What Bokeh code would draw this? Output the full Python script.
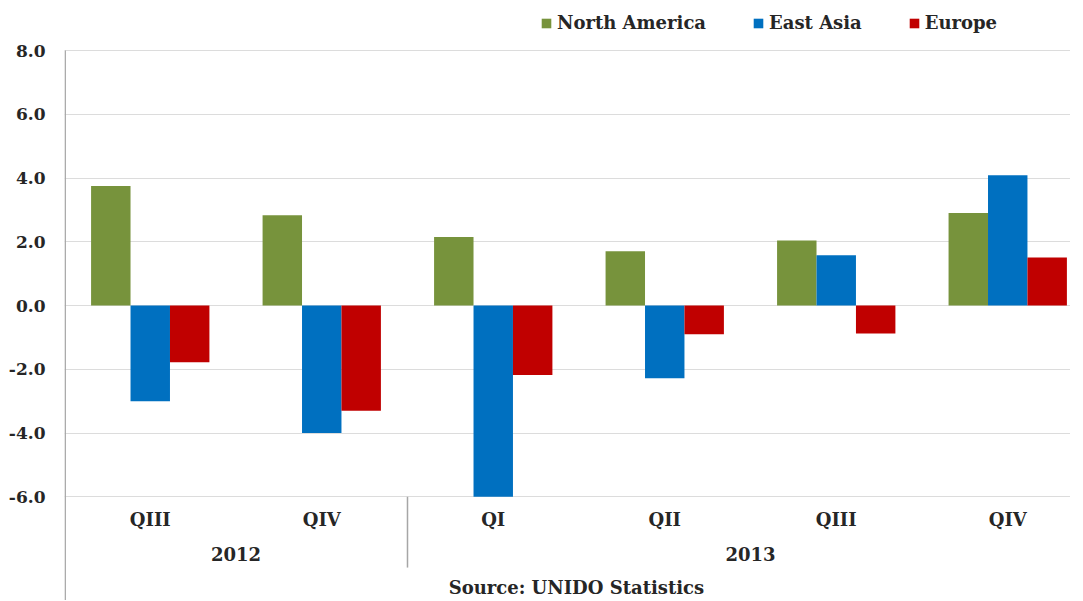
from bokeh.plotting import figure
from bokeh.models import (Range1d, FixedTicker, NumeralTickFormatter, Legend,
                          LegendItem, ColumnDataSource)
from bokeh.core.properties import value
from bokeh.embed import file_html
from bokeh.resources import INLINE

years = ["2012", "2013"]
quarters = ["QIII", "QIV", "QI", "QII", "QIII", "QIV"]
year_of_quarter = ["2012", "2012", "2013", "2013", "2013", "2013"]
north_america = [3.75, 2.83, 2.15, 1.70, 2.04, 2.90]
east_asia = [-3.0, -4.0, -6.0, -2.28, 1.58, 4.09]
europe = [-1.78, -3.30, -2.18, -0.90, -0.88, 1.51]
series_names = ["North America", "East Asia", "Europe"]
series_colors = ["#77933C", "#0070C0", "#C00000"]
y_ticks = [-6, -4, -2, 0, 2, 4, 6, 8]
source_text = "Source: UNIDO Statistics"

FONT = "DejaVu Serif"
TXT = "#262626"

p = figure(width=1070, height=600, output_backend="svg", toolbar_location=None,
           x_range=Range1d(0, 5.866), y_range=Range1d(-9.253, 9.57),
           x_axis_location=None, min_border_left=64, min_border_right=0,
           min_border_top=0, min_border_bottom=0)
p.outline_line_color = None
p.background_fill_color = "white"
p.border_fill_color = "white"

# y axis
p.yaxis.ticker = FixedTicker(ticks=y_ticks)
p.yaxis.formatter = NumeralTickFormatter(format="0.0")
p.yaxis.major_tick_line_color = None
p.yaxis.major_tick_out = 0
p.yaxis.major_tick_in = 0
p.yaxis.minor_tick_line_color = None
p.yaxis.axis_line_color = None
p.yaxis.major_label_standoff = 19
p.yaxis.major_label_text_font = FONT
p.yaxis.major_label_text_font_style = "bold"
p.yaxis.major_label_text_font_size = "17px"
p.yaxis.major_label_text_color = TXT

p.ygrid.ticker = FixedTicker(ticks=y_ticks)
p.ygrid.grid_line_color = "#dcdcdc"
p.xgrid.grid_line_color = None

# axis line from the top tick down to the bottom of the chart
p.segment(x0=[0.004], y0=[-9.253], x1=[0.004], y1=[max(y_ticks)],
          line_color="#a6a6a6", line_width=1.5)

bw = 0.23
centers = [i + 0.5 for i in range(len(quarters))]
items = []
for k, (name, vals, col) in enumerate(zip(series_names, [north_america, east_asia, europe], series_colors)):
    src = ColumnDataSource(dict(x=[c + (k - 1) * bw for c in centers], top=vals))
    r = p.vbar(x="x", top="top", bottom=0, width=bw, source=src,
               fill_color=col, line_color=None)
    items.append(LegendItem(label=name, renderers=[r]))

# category labels
p.text(x=centers, y=[-6.7] * len(quarters), text=quarters, text_align="center",
       text_baseline="middle", text_font=value(FONT), text_font_style="bold",
       text_font_size="18px", text_color=TXT)

year_centers = []
for yv in years:
    idx = [c for c, yq in zip(centers, year_of_quarter) if yq == yv]
    year_centers.append(sum(idx) / len(idx))
p.text(x=year_centers, y=[-7.8] * len(years), text=years, text_align="center",
       text_baseline="middle", text_font=value(FONT), text_font_style="bold",
       text_font_size="18px", text_color=TXT)

# separator between years
n2012 = year_of_quarter.count("2012")
p.segment(x0=[n2012], y0=[-6.0], x1=[n2012], y1=[-8.22], line_color="#a6a6a6", line_width=1.5)

p.text(x=[2.24], y=[-8.85], text=[source_text], text_align="left",
       text_baseline="middle", text_font=value(FONT), text_font_style="bold",
       text_font_size="18px", text_color=TXT)

legend = Legend(items=items, orientation="horizontal", location=(476, 567),
                border_line_color=None, background_fill_alpha=0,
                label_text_font=FONT, label_text_font_style="bold",
                label_text_font_size="18px", label_text_color=TXT,
                glyph_width=12, glyph_height=12, label_standoff=5, spacing=46,
                padding=0, margin=0)
p.add_layout(legend, "center")

open("out.html", "w").write(file_html(p, INLINE))
